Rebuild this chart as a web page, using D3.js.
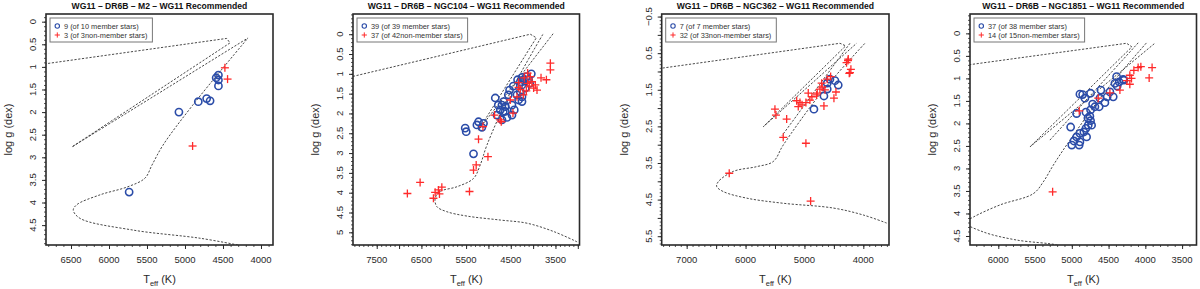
<!DOCTYPE html>
<html>
<head>
<meta charset="utf-8">
<script src="https://cdn.jsdelivr.net/npm/d3@7/dist/d3.min.js"></script>
<style>
  body { margin: 0; background: #fff; }
  svg { display: block; font-family: "Liberation Sans", Arial, Helvetica, sans-serif; }
</style>
</head>
<body>
<svg id="chart" width="1200" height="289"></svg>
<script>
// ---- data: [Teff, log g] ----
const m2_members = [[4560,1.18],[4560,1.29],[4590,1.24],[4560,1.42],[5080,2.00],[4825,1.77],[4715,1.70],[4670,1.75],[5735,3.77]];
const m2_nonmembers = [[4475,1.02],[4440,1.27],[4900,2.75]];
const m2_isochrone = [
  [[4303,4.94],[4803,4.79],[5684,4.61],[6382,4.35],[6470,4.17],[6425,4.05],[6118,3.83],[5750,3.65],[5526,3.46],[5434,3.17],[5289,2.73],[4900,1.85],[4171,0.36]],
  [[7000,0.97],[4451,0.37],[4408,0.47],[6487,2.77],[4171,0.36]]
];

const ngc104_members = [[4527,1.41],[4287,1.20],[4249,1.28],[4213,1.15],[4152,1.07],[4101,1.14],[4287,1.45],[4361,1.53],[4249,1.58],
  [4661,1.70],[4697,1.79],[4623,1.83],[4473,1.79],[4735,1.91],[4809,2.04],[4623,1.95],[4585,2.10],[4473,2.04],[4697,2.16],
  [4325,1.66],[4249,1.70],[5222,2.21],[5110,2.25],[5258,2.29],[5146,2.35],[5520,2.37],[5498,2.46],[5334,3.02],[4175,1.36],
  [4078,1.24],[4348,1.15],[4249,1.09],[4444,1.31],[4556,1.53],[4780,1.79],[4668,1.96],[4422,1.91],[4040,1.00],[4847,1.61]];
const ngc104_nonmembers = [[3614,0.73],[3614,0.90],[3823,1.10],[4063,1.07],[4123,0.98],[4025,1.20],[3951,1.28],[3913,1.41],
  [3989,1.36],[4123,1.24],[4325,1.34],[4152,1.43],[4361,1.58],[4451,1.99],[4735,2.16],[4863,2.04],[5123,2.33],[5222,2.65],
  [5011,3.09],[5274,3.30],[5334,3.43],[6529,3.74],[6814,4.02],[6043,3.86],[6119,3.93],[6193,3.99],[6096,4.03],[6231,4.14],
  [5424,3.97],[4287,1.39],[4325,1.22],[4713,2.21],[4197,1.10],[4085,1.31],[4220,1.53],[4511,1.66],[3703,1.15]];
const ngc104_isochrone = [
  [[3016,5.24],[3540,4.98],[4137,4.77],[4735,4.69],[5482,4.59],[5930,4.48],[6155,4.35],[6193,4.14],[6081,3.97],[5706,3.85],[5334,3.64],[5184,3.30],[5034,2.80],[4500,1.45],[3765,-0.03]],
  [[8200,1.11],[4063,0.0],[3928,0.09],[5222,2.42],[3540,-0.03]]
];

const ngc362_members = [[4839,2.03],[4669,1.67],[4613,1.48],[4613,1.32],[4567,1.21],[4482,1.25],[4426,1.37]];
const ngc362_nonmembers = [[4256,0.66],[4211,0.94],[4239,1.05],[4555,1.14],[4613,1.21],[4708,1.32],[4737,1.48],[4652,1.50],
  [4783,1.59],[4499,1.73],[4669,1.94],[4935,1.59],[4907,1.78],[4975,1.85],[5076,1.85],[5105,1.96],[5132,1.80],[5501,2.03],
  [5484,2.19],[5302,2.30],[5360,2.80],[4975,2.96],[6277,3.78],[4895,4.54],[4227,1.03],[4698,1.43],[4793,1.64],[4285,0.76],
  [4465,1.56],[4873,1.69],[5041,1.91],[4260,0.70]];
const ngc362_isochrone = [
  [[3604,5.14],[4002,4.92],[4511,4.73],[5360,4.60],[5981,4.46],[6379,4.28],[6491,4.14],[6463,4.01],[6209,3.73],[5812,3.60],[5530,3.46],[5360,3.01],[4700,1.55],[3973,0.23]],
  [[7600,0.95],[4397,0.23],[4300,0.30],[5699,2.51],[4114,0.23]],
  [[4227,0.23],[5380,2.75]]
];

const ngc1851_members = [[4391,0.96],[4414,1.11],[4356,1.08],[4302,1.02],[4383,1.17],[4605,1.26],[4890,1.35],[4745,1.33],
  [4822,1.44],[4482,1.30],[4437,1.41],[4519,1.41],[4618,1.44],[4550,1.54],[4717,1.57],[4686,1.63],[4628,1.63],[4745,1.70],
  [4754,1.84],[4745,1.94],[4777,2.04],[4808,2.11],[4836,2.19],[4890,2.22],[5016,2.08],[4935,2.30],[4799,2.30],[4971,2.39],
  [4890,2.41],[4731,2.04],[4292,1.04],[4853,1.36],[4935,1.78],[4900,2.48],[5000,2.48],[4781,1.88],[4808,1.75]];
const ngc1851_nonmembers = [[3908,0.76],[3948,0.99],[4098,0.76],[4156,0.82],[4211,0.93],[4188,1.00],[4211,1.13],[4346,1.26],
  [4482,1.32],[4641,1.44],[4899,1.72],[5261,3.52],[4061,0.74],[4251,1.05]];
const ngc1851_isochrone = [
  [[5150,4.75],[5207,4.70],[5750,4.59],[6204,4.41],[6450,4.20],[6340,4.08],[5977,3.81],[5524,3.56],[5389,3.30],[5253,2.93],[5071,2.48],[4550,1.30],[3984,0.21]],
  [[6500,0.72],[4255,0.22],[4183,0.30],[5569,2.52],[3871,0.22]],
  [[4097,0.21],[5298,2.37]]
];

// ---- axes / labels ----
const panel_titles = ["WG11 \u2013 DR6B \u2013 M2 \u2013 WG11 Recommended", "WG11 \u2013 DR6B \u2013 NGC104 \u2013 WG11 Recommended",
  "WG11 \u2013 DR6B \u2013 NGC362 \u2013 WG11 Recommended", "WG11 \u2013 DR6B \u2013 NGC1851 \u2013 WG11 Recommended"];
const member_legend = ["9 (of 10 member stars)", "39 (of 39 member stars)", "7 (of 7 member stars)", "37 (of 38 member stars)"];
const nonmember_legend = ["3 (of 3non-member stars)", "37 (of 42non-member stars)", "32 (of 33non-member stars)", "14 (of 15non-member stars)"];
const x_ticks = [[6500,6000,5500,5000,4500,4000],[7500,7000,6500,6000,5500,5000,4500,4000,3500,3000],[7000,6500,6000,5500,5000,4500,4000],[6000,5500,5000,4500,4000,3500]];
const x_tick_labels = [[6500,6000,5500,5000,4500,4000],[7500,6500,5500,4500,3500],[7000,6000,5000,4000],[6000,5500,5000,4500,4000,3500]];
const y_ticks = [[0,0.5,1,1.5,2,2.5,3,3.5,4,4.5],[0,0.5,1,1.5,2,2.5,3,3.5,4,4.5,5],[-0.5,0,0.5,1,1.5,2,2.5,3,3.5,4,4.5,5,5.5],[0,0.5,1,1.5,2,2.5,3,3.5,4,4.5]];
const y_tick_labels = [[0,0.5,1,1.5,2,2.5,3,3.5,4,4.5],[0,0.5,1,1.5,2,2.5,3,3.5,4,4.5,5],[-0.5,0.5,1.5,2.5,3.5,4.5,5.5],[0,0.5,1,1.5,2,2.5,3,3.5,4,4.5]];

const panels = [
  { key: "m2", members: m2_members, nonmembers: m2_nonmembers, iso: m2_isochrone, left: 46, right: 273, x_domain: [6829, 3842], y_domain: [-0.17, 4.94] },
  { key: "ngc104", members: ngc104_members, nonmembers: ngc104_nonmembers, iso: ngc104_isochrone, left: 353, right: 579.5, x_domain: [8031, 2962], y_domain: [-0.51, 5.32] },
  { key: "ngc362", members: ngc362_members, nonmembers: ngc362_nonmembers, iso: ngc362_isochrone, left: 661.7, right: 889, x_domain: [7424, 3564], y_domain: [-0.57, 5.74] },
  { key: "ngc1851", members: ngc1851_members, nonmembers: ngc1851_nonmembers, iso: ngc1851_isochrone, left: 970, right: 1196.5, x_domain: [6385, 3304], y_domain: [-0.43, 4.70] }
];

const plot_top = 14;
const plot_bottom = 245;
const blue = "#2b4ca8";
const red = "#ff2b2b";
const ink = "#2a2a2a";
const fmt_y = d3.format("~g");

function draw_cross(sel, size) {
  sel.append("line").attr("x1", -size).attr("x2", size).attr("y1", 0).attr("y2", 0);
  sel.append("line").attr("x1", 0).attr("x2", 0).attr("y1", -size).attr("y2", size);
}

function build_panel(svg, p, i) {
  const x = d3.scaleLinear().domain(p.x_domain).range([p.left, p.right]);
  const y = d3.scaleLinear().domain(p.y_domain).range([plot_top, plot_bottom]);
  const g = svg.append("g").attr("class", "panel-" + p.key);

  const clip_id = "clip-" + p.key;
  svg.append("clipPath").attr("id", clip_id)
    .append("rect")
    .attr("x", p.left).attr("y", plot_top)
    .attr("width", p.right - p.left).attr("height", plot_bottom - plot_top);

  const plot = g.append("g").attr("clip-path", `url(#${clip_id})`);

  // isochrone (dashed): smooth main branch, straight HB/AGB tracks
  const smooth_line = d3.line()
    .x((d) => x(d[0]))
    .y((d) => y(d[1]))
    .curve(d3.curveCatmullRom.alpha(0.5));
  const straight_line = d3.line()
    .x((d) => x(d[0]))
    .y((d) => y(d[1]));
  plot.selectAll("path.iso")
    .data(p.iso)
    .join("path")
    .attr("class", "iso")
    .attr("d", (d, k) => (k === 0 ? smooth_line(d) : straight_line(d)))
    .attr("fill", "none")
    .attr("stroke", "#333")
    .attr("stroke-width", 0.9)
    .attr("stroke-dasharray", "2.2,1.6");

  // member stars
  plot.selectAll("circle.member")
    .data(p.members)
    .join("circle")
    .attr("class", "member")
    .attr("cx", (d) => x(d[0]))
    .attr("cy", (d) => y(d[1]))
    .attr("r", 3.6)
    .attr("fill", "none")
    .attr("stroke", blue)
    .attr("stroke-width", 1.6);

  // non-member stars
  plot.selectAll("g.nonmember")
    .data(p.nonmembers)
    .join("g")
    .attr("class", "nonmember")
    .attr("transform", (d) => `translate(${x(d[0])},${y(d[1])})`)
    .attr("stroke", red)
    .attr("stroke-width", 1.3)
    .call((s) => draw_cross(s, 4));

  // box
  g.append("rect")
    .attr("x", p.left).attr("y", plot_top)
    .attr("width", p.right - p.left).attr("height", plot_bottom - plot_top)
    .attr("fill", "none").attr("stroke", ink).attr("stroke-width", 1.6);

  // x axis ticks
  const x_ext = d3.extent(p.x_domain);
  const x_minor = d3.range(Math.ceil(x_ext[0] / 100) * 100, x_ext[1], 100);
  g.append("g")
    .attr("transform", `translate(0,${plot_bottom})`)
    .call(d3.axisBottom(x).tickValues(x_minor).tickSize(2).tickFormat(""))
    .call((a) => a.select(".domain").remove())
    .selectAll("line").attr("stroke", ink).attr("stroke-width", 0.8);
  g.append("g")
    .attr("transform", `translate(0,${plot_bottom})`)
    .call(d3.axisBottom(x).tickValues(x_ticks[i]).tickSize(4).tickFormat(""))
    .call((a) => a.select(".domain").remove())
    .selectAll("line").attr("stroke", ink).attr("stroke-width", 1);
  g.selectAll("text.xlab")
    .data(x_tick_labels[i])
    .join("text")
    .attr("class", "xlab")
    .attr("x", (d) => x(d))
    .attr("y", 263)
    .attr("text-anchor", "middle")
    .attr("font-size", 9.5)
    .attr("fill", ink)
    .text((d) => d);

  // y axis ticks
  const y_ext = d3.extent(p.y_domain);
  const y_minor = d3.range(Math.ceil(y_ext[0] * 10), y_ext[1] * 10, 1).map((v) => v / 10);
  g.append("g")
    .attr("transform", `translate(${p.left},0)`)
    .call(d3.axisLeft(y).tickValues(y_minor).tickSize(2).tickFormat(""))
    .call((a) => a.select(".domain").remove())
    .selectAll("line").attr("stroke", ink).attr("stroke-width", 0.8);
  g.append("g")
    .attr("transform", `translate(${p.left},0)`)
    .call(d3.axisLeft(y).tickValues(y_ticks[i]).tickSize(4).tickFormat(""))
    .call((a) => a.select(".domain").remove())
    .selectAll("line").attr("stroke", ink).attr("stroke-width", 1);
  g.selectAll("text.ylab")
    .data(y_tick_labels[i])
    .join("text")
    .attr("class", "ylab")
    .attr("transform", (d) => `translate(${p.left - 10},${y(d)}) rotate(-90)`)
    .attr("text-anchor", "middle")
    .attr("font-size", 9.5)
    .attr("fill", ink)
    .text((d) => fmt_y(d));

  // axis titles
  g.append("text")
    .attr("transform", `translate(${p.left - 34},${(plot_top + plot_bottom) / 2}) rotate(-90)`)
    .attr("text-anchor", "middle")
    .attr("font-size", 11)
    .attr("fill", ink)
    .text("log g (dex)");
  const xt = g.append("text")
    .attr("x", (p.left + p.right) / 2)
    .attr("y", 283)
    .attr("text-anchor", "middle")
    .attr("font-size", 11)
    .attr("fill", ink);
  xt.append("tspan").text("T");
  xt.append("tspan").attr("font-size", 7.5).attr("dy", 2.5).text("eff");
  xt.append("tspan").attr("dy", -2.5).text(" (K)");

  // title
  g.append("text")
    .attr("x", (p.left + p.right) / 2)
    .attr("y", 9)
    .attr("text-anchor", "middle")
    .attr("font-size", 8.6)
    .attr("font-weight", "bold")
    .attr("fill", "#111")
    .text(panel_titles[i]);

  // legend
  const lx = p.left + 4;
  const leg = g.append("g");
  const box = leg.append("rect")
    .attr("x", lx).attr("y", 18).attr("height", 24)
    .attr("fill", "#fff").attr("stroke", "#777").attr("stroke-width", 1);
  leg.append("circle")
    .attr("cx", lx + 7.3).attr("cy", 26).attr("r", 2.2)
    .attr("fill", "none").attr("stroke", blue).attr("stroke-width", 1.1);
  leg.append("g")
    .attr("transform", `translate(${lx + 7.3},35)`)
    .attr("stroke", red).attr("stroke-width", 1)
    .call((s) => draw_cross(s, 2.6));
  const texts = leg.selectAll("text")
    .data([member_legend[i], nonmember_legend[i]])
    .join("text")
    .attr("x", lx + 14)
    .attr("y", (d, k) => 28.6 + k * 9)
    .attr("font-size", 7.4)
    .attr("fill", "#333")
    .text((d) => d);
  let max_len = 0;
  texts.each(function () { max_len = Math.max(max_len, this.getComputedTextLength()); });
  box.attr("width", 14 + max_len + 5);
}

const svg = d3.select("#chart");
panels.forEach((p, i) => build_panel(svg, p, i));
</script>
</body>
</html>
